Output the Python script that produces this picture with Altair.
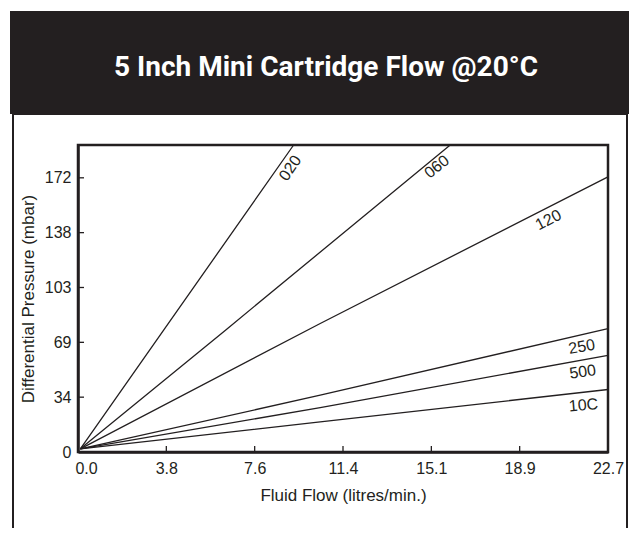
import altair as alt
import pandas as pd

INK = "#231f20"
TITLE = "5 Inch Mini Cartridge Flow @20°C"

# cartridge grades
series = ["020", "060", "120", "250", "500", "10C"]

# flow (litres/min) and differential pressure (mbar)
flow_020 = [0.1, 3.67, 9.24]
dp_020 = [2.0, 76.6, 193.0]
flow_060 = [0.1, 6.32, 15.95]
dp_060 = [2.0, 76.6, 193.0]
flow_120 = [0.1, 10.38, 22.71]
dp_120 = [2.0, 80.8, 173.0]
flow_250 = [0.1, 10.38, 22.71]
dp_250 = [2.0, 35.7, 77.6]
flow_500 = [0.1, 10.38, 22.71]
dp_500 = [2.0, 27.9, 60.8]
flow_10c = [0.1, 10.38, 22.71]
dp_10c = [2.0, 18.9, 39.3]

# line label placement (data coords) and rotation
label_flow = [9.10, 15.38, 20.16, 21.59, 21.63, 21.66]
label_dp = [178.5, 179.3, 145.8, 66.1, 50.3, 29.4]
label_angle = [304, 321, 333, 350, 352, 355]

# axis ticks (gpm / psi steps expressed in litres/min and mbar)
x_ticks = [0, 3.785, 7.571, 11.356, 15.142, 18.927, 22.712]
y_ticks = [0, 34.47, 68.95, 103.42, 137.90, 172.37]
x_domain = [0, 22.712]
y_domain = [0, 193]

flows = [flow_020, flow_060, flow_120, flow_250, flow_500, flow_10c]
dps = [dp_020, dp_060, dp_120, dp_250, dp_500, dp_10c]

rows = []
for name, fl, dp in zip(series, flows, dps):
    for i, (f, d) in enumerate(zip(fl, dp)):
        rows.append({"series": name, "flow": f, "dp": d, "order": i})
lines_df = pd.DataFrame(rows)

labels_df = pd.DataFrame({"series": series, "flow": label_flow, "dp": label_dp, "angle": label_angle})
xt_df = pd.DataFrame({"v": x_ticks})
yt_df = pd.DataFrame({"v": y_ticks})
deco_df = pd.DataFrame({"a": [0]})

FONT = "Liberation Sans, Arial, Helvetica, sans-serif"

xscale = alt.Scale(domain=x_domain, nice=False, zero=False)
yscale = alt.Scale(domain=y_domain, nice=False, zero=False)

x_axis = alt.Axis(
    values=x_ticks, format=".1f", ticks=False, grid=False,
    domainColor=INK, domainWidth=2.5,
    labelFont=FONT, labelFontSize=16, labelColor=INK, labelPadding=8,
    labelFlush=False,
    labelOffset=alt.condition("datum.value == 0", alt.value(8), alt.value(0)),
    title="Fluid Flow (litres/min.)", titleFont=FONT, titleFontSize=17,
    titleFontWeight="normal", titleColor=INK, titlePadding=11,
)
y_axis = alt.Axis(
    values=y_ticks, format=".0f", ticks=False, grid=False,
    domainColor=INK, domainWidth=2.5,
    labelFont=FONT, labelFontSize=16, labelColor=INK, labelPadding=7,
    title="Differential Pressure (mbar)", titleFont=FONT, titleFontSize=17,
    titleFontWeight="normal", titleColor=INK, titlePadding=7,
)

band = alt.Chart(deco_df).mark_rect(color=INK).encode(
    x=alt.value(-68), x2=alt.value(600), y=alt.value(-134), y2=alt.value(-31)
)
box = alt.Chart(deco_df).mark_rect(filled=False, stroke=INK, strokeWidth=2).encode(
    x=alt.value(-65), x2=alt.value(549), y=alt.value(-31), y2=alt.value(440)
)
title = alt.Chart(deco_df).mark_text(
    text=TITLE, font="Roboto, Liberation Sans, sans-serif",
    fontSize=28, fontWeight="bold", color="white", align="center", baseline="alphabetic",
).encode(x=alt.value(248), y=alt.value(-69))

lines = alt.Chart(lines_df).mark_line(color=INK, strokeWidth=1.3).encode(
    x=alt.X("flow:Q", scale=xscale, axis=x_axis),
    y=alt.Y("dp:Q", scale=yscale, axis=y_axis),
    detail="series:N",
    order="order:Q",
)

xticks = alt.Chart(xt_df).mark_rule(color=INK, strokeWidth=1.3).encode(
    x=alt.X("v:Q", scale=xscale), y=alt.value(307), y2=alt.value(301)
)
yticks = alt.Chart(yt_df).mark_rule(color=INK, strokeWidth=1.3).encode(
    y=alt.Y("v:Q", scale=yscale), x=alt.value(0), x2=alt.value(6)
)

labels = alt.Chart(labels_df).mark_text(
    font=FONT, fontSize=16, color=INK, align="center", baseline="middle"
).encode(
    x=alt.X("flow:Q", scale=xscale),
    y=alt.Y("dp:Q", scale=yscale),
    text="series:N",
    angle=alt.Angle("angle:Q", scale=None),
)

chart = alt.layer(band, box, title, lines, xticks, yticks, labels).properties(
    width=530, height=307,
    padding={"left": 70, "top": 137, "right": 21, "bottom": 76},
    autosize=alt.AutoSizeParams(type="none"),
    background="white",
).configure_view(stroke=INK, strokeWidth=2.5)

chart.save("out.html", embed_options={"renderer": "svg", "actions": False})
